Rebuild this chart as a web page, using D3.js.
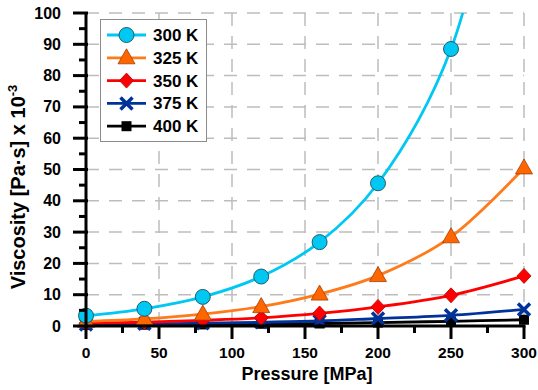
<!DOCTYPE html>
<html>
<head>
<meta charset="utf-8">
<script src="https://cdn.jsdelivr.net/npm/d3@7"></script>
<style>
  body { margin: 0; background: #fff; }
  svg { display: block; font-family: "Liberation Sans", Arial, sans-serif; font-weight: bold; }
</style>
</head>
<body>
<svg id="chart" width="538" height="390"></svg>
<script>
// pressure in MPa
const pressures = [0, 40, 80, 120, 160, 200, 250, 300];
// viscosity [Pa·s] x 10^-3
const visc300 = [3.3, 5.5, 9.3, 15.8, 26.8, 45.6, 88.5, 190];
const visc325 = [1.5, 2.3, 3.8, 6.2, 10.2, 16.1, 28.5, 50.5];
const visc350 = [0.9, 1.2, 1.8, 2.6, 4.0, 6.1, 9.8, 16.0];
const visc375 = [0.5, 0.7, 0.9, 1.2, 1.6, 2.4, 3.4, 5.3];
const visc400 = [0.3, 0.4, 0.5, 0.7, 0.8, 1.1, 1.5, 2.0];
const seriesNames = ['300 K', '325 K', '350 K', '375 K', '400 K'];
const xTicks = [0, 50, 100, 150, 200, 250, 300];
const yTicks = [0, 10, 20, 30, 40, 50, 60, 70, 80, 90, 100];

const series = [
  {name: seriesNames[0], values: visc300, line: '#00c8f2', fill: '#00c8f2', sym: 'circle'},
  {name: seriesNames[1], values: visc325, line: '#ff7a1a', fill: '#ff6600', sym: 'triangle'},
  {name: seriesNames[2], values: visc350, line: '#ff0000', fill: '#ff0000', sym: 'diamond'},
  {name: seriesNames[3], values: visc375, line: '#003399', fill: '#003399', sym: 'cross'},
  {name: seriesNames[4], values: visc400, line: '#000000', fill: '#000000', sym: 'square'}
];

const svg = d3.select('#chart');
const plotL = 86, plotR = 524, plotT = 13, plotB = 326;

const x = d3.scaleLinear().domain([0, 300]).range([plotL, plotR]);
const y = d3.scaleLinear().domain([0, 100]).range([plotB, plotT]);

// grid
const grid = svg.append('g')
  .attr('stroke', '#bdbdbd')
  .attr('stroke-width', 1.5)
  .attr('stroke-dasharray', '13,10');
grid.selectAll('line.h')
  .data(yTicks.slice(1))
  .join('line')
  .attr('x1', plotL).attr('x2', plotR)
  .attr('y1', d => y(d)).attr('y2', d => y(d));
grid.selectAll('line.v')
  .data(xTicks.slice(1))
  .join('line')
  .attr('x1', d => x(d)).attr('x2', d => x(d))
  .attr('y1', plotT).attr('y2', plotB);

svg.append('clipPath').attr('id', 'clip')
  .append('rect')
  .attr('x', plotL - 10).attr('y', plotT)
  .attr('width', plotR - plotL + 20).attr('height', plotB - plotT + 20);

const lineGen = d3.line()
  .x((d, i) => x(pressures[i]))
  .y(d => y(d))
  .curve(d3.curveCatmullRom);

function drawSymbol(g, sym, color, px, py) {
  if (sym === 'circle') {
    g.append('circle').attr('cx', px).attr('cy', py).attr('r', 7.5)
      .attr('fill', color).attr('stroke', '#1a4f5e').attr('stroke-width', 0.9);
  } else if (sym === 'triangle') {
    g.append('path')
      .attr('d', `M${px},${py - 9}L${px + 8.5},${py + 6}L${px - 8.5},${py + 6}Z`)
      .attr('fill', color).attr('stroke', '#a04000').attr('stroke-width', 0.8);
  } else if (sym === 'diamond') {
    g.append('path')
      .attr('d', `M${px},${py - 7.5}L${px + 7},${py}L${px},${py + 7.5}L${px - 7},${py}Z`)
      .attr('fill', color).attr('stroke', '#b00000').attr('stroke-width', 0.8);
  } else if (sym === 'cross') {
    g.append('path')
      .attr('d', `M${px - 6},${py - 6}L${px + 6},${py + 6}M${px - 6},${py + 6}L${px + 6},${py - 6}`)
      .attr('stroke', color).attr('stroke-width', 3.5);
  } else {
    g.append('rect').attr('x', px - 5).attr('y', py - 5).attr('width', 10).attr('height', 10)
      .attr('fill', color);
  }
}

const plot = svg.append('g').attr('clip-path', 'url(#clip)');
series.slice().reverse().forEach(s => {
  const g = plot.append('g');
  g.append('path')
    .datum(s.values)
    .attr('d', lineGen)
    .attr('fill', 'none')
    .attr('stroke', s.line)
    .attr('stroke-width', 2.8);
  s.values.forEach((v, i) => {
    if (v <= 100) drawSymbol(g, s.sym, s.fill, x(pressures[i]), y(v));
  });
});

// axes
const yAxis = svg.append('g');
yAxis.append('line')
  .attr('x1', plotL).attr('x2', plotL).attr('y1', plotT - 1).attr('y2', plotB + 1.5)
  .attr('stroke', '#000').attr('stroke-width', 3);
yAxis.selectAll('line.major')
  .data(yTicks)
  .join('line')
  .attr('x1', plotL - 13).attr('x2', plotL + 2)
  .attr('y1', d => y(d)).attr('y2', d => y(d))
  .attr('stroke', '#000').attr('stroke-width', 3);
yAxis.selectAll('line.minor')
  .data(d3.range(5, 100, 10))
  .join('line')
  .attr('x1', plotL - 7).attr('x2', plotL)
  .attr('y1', d => y(d)).attr('y2', d => y(d))
  .attr('stroke', '#000').attr('stroke-width', 3);
yAxis.selectAll('text')
  .data(yTicks)
  .join('text')
  .attr('x', plotL - 25)
  .attr('y', d => y(d) + 5.5)
  .attr('text-anchor', 'end')
  .attr('font-size', 16)
  .text(d => d);

const xAxis = svg.append('g');
xAxis.append('line')
  .attr('x1', plotL - 1.5).attr('x2', plotR + 1.5).attr('y1', plotB).attr('y2', plotB)
  .attr('stroke', '#000').attr('stroke-width', 3);
xAxis.selectAll('line.major')
  .data(xTicks)
  .join('line')
  .attr('x1', d => x(d)).attr('x2', d => x(d))
  .attr('y1', plotB).attr('y2', plotB + 13)
  .attr('stroke', '#000').attr('stroke-width', 3);
xAxis.selectAll('line.minor')
  .data(d3.range(25, 300, 50))
  .join('line')
  .attr('x1', d => x(d)).attr('x2', d => x(d))
  .attr('y1', plotB).attr('y2', plotB + 7)
  .attr('stroke', '#000').attr('stroke-width', 3);
xAxis.selectAll('text')
  .data(xTicks)
  .join('text')
  .attr('x', d => x(d))
  .attr('y', plotB + 32)
  .attr('text-anchor', 'middle')
  .attr('font-size', 15.5)
  .text(d => d);

svg.append('text')
  .attr('x', (plotL + plotR) / 2 + 2)
  .attr('y', 380)
  .attr('text-anchor', 'middle')
  .attr('font-size', 18)
  .text('Pressure [MPa]');

const yt = svg.append('text')
  .attr('transform', 'translate(25,187) rotate(-90)')
  .attr('text-anchor', 'middle')
  .attr('font-size', 20);
yt.append('tspan').text('Viscosity [Pa·s] x 10');
yt.append('tspan').attr('dy', -8).attr('font-size', 13).text('-3');

// legend
const legend = svg.append('g');
legend.append('rect')
  .attr('x', 100.5).attr('y', 19.5).attr('width', 106).attr('height', 122)
  .attr('fill', '#fff').attr('stroke', '#8c8c8c').attr('stroke-width', 1);
series.forEach((s, i) => {
  const ly = 35 + i * 22.8;
  const g = legend.append('g');
  g.append('line')
    .attr('x1', 107).attr('x2', 146).attr('y1', ly).attr('y2', ly)
    .attr('stroke', s.line).attr('stroke-width', 2.8);
  drawSymbol(g, s.sym, s.fill, 126.5, ly);
  g.append('text')
    .attr('x', 153).attr('y', ly + 6)
    .attr('font-size', 17)
    .text(s.name);
});
</script>
</body>
</html>
